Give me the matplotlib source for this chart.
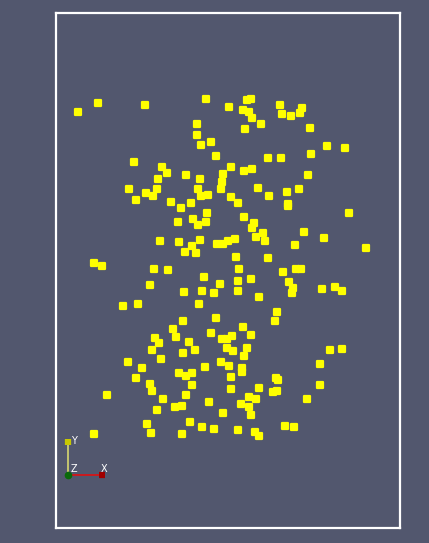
import matplotlib
matplotlib.use("Agg")
import matplotlib.pyplot as plt
from matplotlib.markers import MarkerStyle

# point positions (screen units)
pts_x = [
    78, 98, 145, 206, 197, 197, 201, 211, 216, 134, 162, 167, 186, 158, 200, 223, 129, 146, 157, 153, 136, 198, 201, 208, 222, 221, 171, 191,
    229, 247, 251, 243, 249, 252, 261, 245, 280, 282, 291, 300, 302, 310, 327, 345, 311, 268, 281, 231, 244, 252, 308, 258, 269, 287, 299, 231, 238, 288,
    181, 207, 178, 193, 198, 206, 160, 179, 200, 192, 185, 196, 217, 223, 94, 102, 154, 168, 204, 220, 150, 184, 202, 214, 123, 138, 199, 183, 216,
    288, 349, 244, 254, 252, 263, 265, 256, 304, 324, 366, 295, 228, 235, 236, 268, 239, 283, 296, 301, 238, 251, 289, 293, 292, 322, 335, 342, 238, 259, 277, 275,
    173, 176, 155, 159, 152, 189, 195, 183, 211, 222, 221, 161, 128, 142, 205, 179, 186, 192, 136, 150, 152, 192, 107, 163, 186, 209, 223, 175, 182, 157, 190, 147, 202, 214, 94, 151, 182,
    243, 251, 232, 227, 227, 233, 247, 244, 229, 242, 242, 330, 342, 320, 231, 276, 278, 320, 231, 259, 273, 277, 307, 249, 256, 241, 249, 251, 285, 294, 238, 255, 259,
]
pts_y = [
    112, 103, 105, 99, 124, 135, 145, 142, 156, 162, 167, 173, 175, 179, 179, 174, 189, 193, 189, 196, 200, 189, 196, 195, 182, 189, 202, 203,
    107, 100, 99, 110, 112, 118, 124, 129, 105, 114, 116, 113, 108, 128, 146, 148, 154, 158, 158, 167, 171, 169, 175, 188, 196, 192, 189, 197, 203, 204,
    208, 213, 222, 219, 225, 222, 241, 242, 240, 246, 252, 253, 244, 244, 263, 266, 269, 270, 277, 284, 285, 292, 291, 293, 306, 304, 304, 321, 318,
    206, 213, 217, 223, 228, 233, 241, 237, 232, 238, 248, 245, 241, 239, 257, 258, 269, 272, 269, 269, 281, 279, 282, 288, 293, 289, 287, 291, 291, 297, 312, 321,
    329, 337, 338, 343, 350, 342, 350, 353, 333, 339, 362, 359, 362, 368, 367, 373, 376, 373, 378, 384, 391, 385, 395, 399, 395, 402, 413, 407, 406, 410, 422, 424, 427, 429, 434, 433, 434,
    327, 335, 336, 339, 348, 351, 348, 356, 366, 368, 372, 350, 349, 364, 377, 378, 380, 385, 389, 388, 392, 391, 399, 397, 399, 404, 407, 415, 426, 427, 430, 432, 436,
]

bg = "#52576e"
W, H = 429, 543

fig = plt.figure(figsize=(W / 100, H / 100), dpi=100, facecolor=bg)

# main view framed by the white border
ax = fig.add_axes([56 / W, (H - 527.5) / H, (400 - 56) / W, (527.5 - 13) / H])
ax.set_facecolor(bg)
ax.set_xlim(56, 400)
ax.set_ylim(527.5, 13)
for s in ax.spines.values():
    s.set_color("white")
    s.set_linewidth(1.6)
ax.set_xticks([])
ax.set_yticks([])

marker = MarkerStyle("s", joinstyle="round")
ax.plot(pts_x, pts_y, linestyle="none", marker=marker, markersize=4.8,
        markerfacecolor="#ffff00", markeredgecolor="#ffff00", markeredgewidth=1.6)

# orientation triad, bottom-left
tri = fig.add_axes([0, 0, 1, 1], facecolor="none")
tri.set_xlim(0, W)
tri.set_ylim(H, 0)
tri.axis("off")
ox, oy = 68, 474.5
tri.plot([ox, 99], [oy, oy], color="#e01010", lw=1.2)
tri.plot([99, 105], [oy, oy], color="#a00000", lw=4.5, solid_capstyle="butt")
tri.plot([ox, ox], [oy, 445], color="#d8d870", lw=1.2)
tri.plot([ox, ox], [445, 439], color="#c8c800", lw=4.5, solid_capstyle="butt")
tri.plot([ox], [oy], marker="o", markersize=4.5, color="#0a6a0a")
tri.text(74, 441, "Y", color="white", fontsize=7, ha="center", va="center")
tri.text(74, 469, "Z", color="white", fontsize=7, ha="center", va="center")
tri.text(104, 469, "X", color="white", fontsize=7, ha="center", va="center")

fig.savefig("out.png", dpi=100, facecolor=bg)
